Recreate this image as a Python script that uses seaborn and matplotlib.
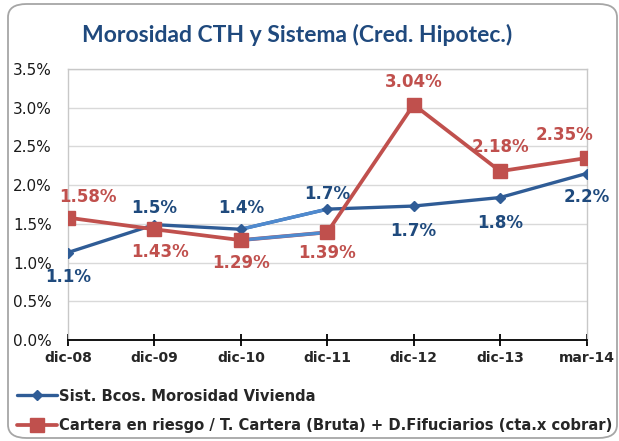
import matplotlib
matplotlib.use("Agg")
import matplotlib.pyplot as plt
import seaborn as sns
import pandas as pd
from matplotlib.lines import Line2D
from matplotlib.patches import FancyBboxPatch
from matplotlib.ticker import FuncFormatter

categories = ["dic-08", "dic-09", "dic-10", "dic-11", "dic-12", "dic-13", "mar-14"]
sistema = [1.13, 1.49, 1.43, 1.69, 1.73, 1.84, 2.15]
sistema_labels = ["1.1%", "1.5%", "1.4%", "1.7%", "1.7%", "1.8%", "2.2%"]
cartera = [1.58, 1.43, 1.29, 1.39, 3.04, 2.18, 2.35]
cartera_labels = ["1.58%", "1.43%", "1.29%", "1.39%", "3.04%", "2.18%", "2.35%"]
yticks = [0.0, 0.5, 1.0, 1.5, 2.0, 2.5, 3.0, 3.5]
name_sis = "Sist. Bcos. Morosidad Vivienda"
name_car = "Cartera en riesgo / T. Cartera (Bruta) + D.Fifuciarios (cta.x cobrar)"
title = "Morosidad CTH y Sistema (Cred. Hipotec.)"

sns.set_style("white")
plt.rcParams["font.family"] = ["DejaVu Sans"]

BLUE = "#2F5C96"
LIGHT = "#4F8ACF"
RED = "#C0504D"
LBLUE = "#1F4A7D"

df = pd.DataFrame({"x": list(range(len(categories))), "sis": sistema, "car": cartera})

fig = plt.figure(figsize=(6.19, 4.41), dpi=100)
ax = fig.add_axes([68 / 619, 1 - 340 / 441, (586.5 - 68) / 619, (340 - 69) / 441])

sns.lineplot(data=df, x="x", y="sis", color=BLUE, lw=2.4, ax=ax, zorder=3)
sns.lineplot(data=df, x="x", y="car", color=RED, lw=2.7, ax=ax, zorder=3)
seg = df.iloc[2:4]
sns.lineplot(data=seg, x="x", y="sis", color=LIGHT, lw=2.4, ax=ax, zorder=4)
sns.lineplot(data=seg, x="x", y="car", color=LIGHT, lw=2.4, ax=ax, zorder=4)
ax.plot(df["x"], df["sis"], ls="none", marker="D", ms=5.5, color=BLUE, mec=BLUE, zorder=5)
ax.plot(df["x"], df["car"], ls="none", marker="s", ms=9.5, color=RED, mec=RED, zorder=5)

sis_off = [-24, 17, 21, 15, -25, -25, -23]
sis_dx = [0, 0, 0, 0, 0, 0, 0]
car_off = [21, -23, -23, -21, 23, 24, 23]
car_dx = [20, 6, 0, 0, 0, 0, -22]
for i in range(len(categories)):
    ax.annotate(sistema_labels[i], (df["x"][i], sistema[i]),
                xytext=(sis_dx[i] * 0.72, sis_off[i] * 0.72), textcoords="offset points",
                ha="center", va="center", fontsize=12, fontweight="bold", color=LBLUE, zorder=6)
    ax.annotate(cartera_labels[i], (df["x"][i], cartera[i]),
                xytext=(car_dx[i] * 0.72, car_off[i] * 0.72), textcoords="offset points",
                ha="center", va="center", fontsize=12, fontweight="bold", color=RED, zorder=6)

ax.set_xlim(0, len(categories) - 1)
ax.set_ylim(0, 3.5)
ax.set_yticks(yticks)
ax.yaxis.set_major_formatter(FuncFormatter(lambda v, p: f"{v:.1f}%"))
ax.set_xticks(range(len(categories)))
ax.set_xticklabels(categories, fontsize=10, fontweight="bold")
ax.set_xlabel("")
ax.set_ylabel("")
ax.grid(axis="y", color="#D9D9D9", lw=1)
ax.set_axisbelow(True)
for s in ["left", "top", "right"]:
    ax.spines[s].set_color("#C8C8C8")
    ax.spines[s].set_linewidth(1)
ax.spines["bottom"].set_color("#000000")
ax.spines["bottom"].set_linewidth(1.3)
ax.tick_params(axis="x", direction="inout", length=8, width=1.3, color="#000000", pad=4, bottom=True)
ax.tick_params(axis="y", length=0, labelsize=11, pad=11.5)
for t in ax.get_yticklabels():
    t.set_color("#1A1A1A")

fig.text(297.5 / 619, 1 - 35 / 441, title, ha="center", va="center",
         fontsize=16.5, fontweight="bold", color="#1F497D", family=["Lato", "DejaVu Sans"])

handles = [Line2D([0], [0], color=BLUE, lw=2.4, marker="D", ms=5.5),
           Line2D([0], [0], color=RED, lw=2.7, marker="s", ms=9.5)]
fig.legend(handles, [name_sis, name_car], loc="center left",
           bbox_to_anchor=(17 / 619, 1 - 411 / 441), frameon=False,
           prop={"weight": "bold", "size": 10.6}, handlelength=2.7, handletextpad=0.15,
           labelspacing=1.0, borderaxespad=0, borderpad=0)

frame = FancyBboxPatch((8 / 619, 3 / 441), 609 / 619, 434 / 441,
                       boxstyle="round,pad=0,rounding_size=0.03",
                       transform=fig.transFigure, fill=False, ec="#A6A6A6", lw=1.3)
fig.patches.append(frame)

fig.savefig("out.png", dpi=100)
